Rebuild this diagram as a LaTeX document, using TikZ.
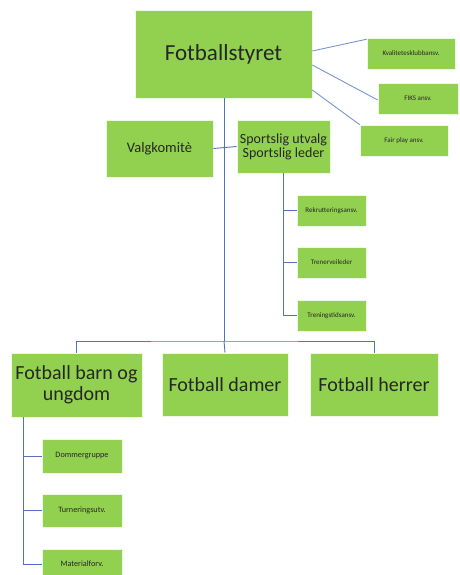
\documentclass[tikz,border=0pt]{standalone}
\usepackage{fontspec}
\setmainfont{Carlito}
\definecolor{boxgreen}{RGB}{146,208,80}
\definecolor{linkblue}{RGB}{80,115,190}
\definecolor{diagblue}{RGB}{120,150,210}
\begin{document}
\begin{tikzpicture}[x=1pt,y=-1pt,
  box/.style={draw=white!85!boxgreen,line width=0.6pt,fill=boxgreen,inner sep=0pt,align=center,text=black!85},
  small/.style={font=\fontsize{7}{8}\selectfont},
  link/.style={draw=linkblue,line width=0.9pt},
  dlink/.style={draw=diagblue,line width=0.9pt}]
\useasboundingbox (0,0) rectangle (459,575);
\node[box,minimum width=177pt,minimum height=88pt,font=\fontsize{23}{24}\selectfont] (styret) at (223.5,54) {Fotballstyret};
\node[box,small,minimum width=88pt,minimum height=31pt] (kval) at (411,53.5) {Kvalitetesklubbansv.};
\node[box,small,minimum width=80pt,minimum height=31pt] (fiks) at (418,98.5) {FIKS ansv.};
\node[box,small,minimum width=88pt,minimum height=31pt] (fair) at (404,140.5) {Fair play ansv.};
\node[box,minimum width=107pt,minimum height=57pt,font=\fontsize{14.5}{16}\selectfont] (valg) at (159.5,148.5) {Valgkomitè};
\node[box,minimum width=93pt,minimum height=53pt,font=\fontsize{14}{14}\selectfont] (sport) at (283.5,146.5) {Sportslig utvalg\\Sportslig leder};
\node[box,small,minimum width=69pt,minimum height=31pt] (rekr) at (331.5,210.5) {Rekrutteringsansv.};
\node[box,small,minimum width=69pt,minimum height=31pt] (tren) at (331.5,262.5) {Trenerveileder};
\node[box,small,minimum width=69pt,minimum height=31pt] (trtid) at (331.5,315.5) {Treningstidsansv.};
\node[box,minimum width=131pt,minimum height=64pt,font=\fontsize{20}{21}\selectfont] (barn) at (76.5,385) {Fotball barn og\\ungdom};
\node[box,minimum width=126pt,minimum height=63pt,font=\fontsize{20}{21}\selectfont] (damer) at (225,384.5) {Fotball damer};
\node[box,minimum width=128pt,minimum height=63pt,font=\fontsize{20}{21}\selectfont] (herrer) at (374,384.5) {Fotball herrer};
\node[box,minimum width=80pt,minimum height=34pt,font=\fontsize{8.2}{9}\selectfont] (domm) at (82,456) {Dommergruppe};
\node[box,minimum width=80pt,minimum height=33pt,font=\fontsize{8.2}{9}\selectfont] (turn) at (82,510.5) {Turneringsutv.};
\node[box,minimum width=80pt,minimum height=30pt,font=\fontsize{8.2}{9}\selectfont] (mat) at (82,564) {Materialforv.};
\coordinate (trunk) at (224,341);
\coordinate (sj) at (283,173);
\coordinate (bj) at (23,417);
% diagonal links
\draw[dlink] ([yshift=3pt]styret.east) -- ([yshift=-1.5pt]kval.north west);
\draw[dlink] ([yshift=-11pt]styret.east) -- ([yshift=-1.5pt]fiks.west);
\draw[dlink] ([yshift=-36pt]styret.east) -- (fair.north west);
% trunk
\draw[link] (styret.south -| trunk) -- (trunk);
\draw[link] (valg.east) -- (sport.west);
\draw[link] (barn.north) |- (trunk) -| (herrer.north);
\draw[link] (trunk) -- (damer.north);
% sportslig subtree
\draw[link] (sport.south -| sj) |- (trtid.west);
\draw[link] (sj |- rekr.west) -- (rekr.west);
\draw[link] (sj |- tren.west) -- (tren.west);
% barn subtree
\draw[link] (barn.south -| bj) |- (mat.west);
\draw[link] (bj |- domm.west) -- (domm.west);
\draw[link] (bj |- turn.west) -- (turn.west);
\end{tikzpicture}
\end{document}
